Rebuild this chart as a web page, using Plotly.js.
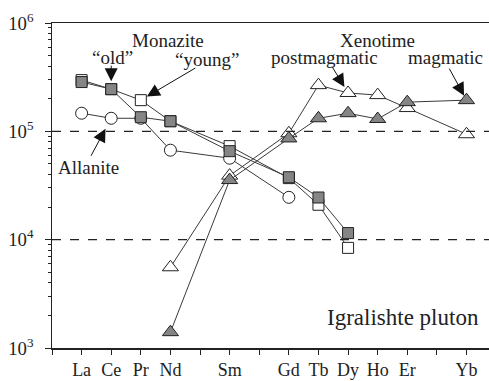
<!DOCTYPE html>
<html>
<head>
<meta charset="utf-8">
<script src="https://cdn.plot.ly/plotly-3.0.1.min.js"></script>
<style>html,body{margin:0;padding:0;background:#fff;}#chart{width:489px;height:381px;}</style>
</head>
<body>
<div id="chart"></div>
<script>
// Element positions (atomic number) and labels
const tickPositions = [56, 57, 58, 59, 60, 61, 62, 63, 64, 65, 66, 67, 68, 69, 70];
const tickLabels    = ['', 'La', 'Ce', 'Pr', 'Nd', '', 'Sm', '', 'Gd', 'Tb', 'Dy', 'Ho', 'Er', '', 'Yb'];

// Allanite (open circles)
const allaniteX = [57, 58, 59, 60, 62, 64];
const allaniteY = [147000, 132000, 132000, 67000, 56500, 24600];

// Monazite "young" (open squares)
const monYoungX = [57, 58, 59, 60, 62, 64, 65, 66];
const monYoungY = [297000, 245000, 194000, 124000, 73000, 37000, 21000, 8400];

// Monazite "old" (grey squares)
const monOldX = [57, 58, 59, 60, 62, 64, 65, 66];
const monOldY = [285000, 245000, 135000, 124000, 65600, 37700, 24500, 11500];

// Xenotime postmagmatic (open triangles)
const xenPostX = [60, 62, 64, 65, 66, 67, 68, 70];
const xenPostY = [5560, 39000, 96000, 267000, 226000, 216000, 164000, 94000];

// Xenotime magmatic (grey triangles)
const xenMagX = [60, 62, 64, 65, 66, 67, 68, 70];
const xenMagY = [1400, 35500, 86000, 132000, 147000, 130000, 186000, 194000];

const lineStyle = {color: '#3a3a3a', width: 1};
const edge = {color: '#222', width: 1};
const grey = '#858585';

const traces = [
  {x: allaniteX, y: allaniteY, mode: 'lines+markers', line: lineStyle,
   marker: {symbol: 'circle', size: 12, color: '#fff', line: edge}},
  {x: monYoungX, y: monYoungY, mode: 'lines+markers', line: lineStyle,
   marker: {symbol: 'square', size: 11, color: '#fff', line: edge}},
  {x: monOldX, y: monOldY, mode: 'lines+markers', line: lineStyle,
   marker: {symbol: 'square', size: 11, color: grey, line: edge}},
  {x: xenPostX, y: xenPostY, mode: 'lines+markers', line: lineStyle,
   marker: {symbol: 'triangle-up', size: 14, color: '#fff', line: edge}},
  {x: xenMagX, y: xenMagY, mode: 'lines+markers', line: lineStyle,
   marker: {symbol: 'triangle-up', size: 14, color: grey, line: edge}}
];

const serif = 'Times New Roman, Times, Liberation Serif, DejaVu Serif, serif';
const txt = (text, x, y, size) => ({text: text, x: x, y: y, xref: 'x', yref: 'y',
  showarrow: false, font: {family: serif, size: size || 19, color: '#222'}});
const arr = (x, y, ax, ay, standoff) => ({text: '', x: x, y: Math.log10(y), xref: 'x', yref: 'y',
  showarrow: true, ax: ax, ay: ay, arrowhead: 2, arrowsize: 2.6, arrowwidth: 1,
  arrowcolor: '#111', standoff: standoff});

const layout = {
  width: 489, height: 381,
  margin: {l: 52, r: 0, t: 23, b: 33},
  paper_bgcolor: '#fff', plot_bgcolor: '#fff',
  showlegend: false,
  font: {family: serif, color: '#222'},
  xaxis: {
    range: [56, 70.76], tickvals: tickPositions, ticktext: tickLabels,
    showgrid: false, zeroline: false, showline: true, linecolor: '#222', linewidth: 1.5,
    mirror: true, ticks: 'outside', ticklen: 5, tickcolor: '#222', tickwidth: 1,
    tickfont: {family: serif, size: 18, color: '#222'}
  },
  yaxis: {
    type: 'log', range: [3, 6], dtick: 1, exponentformat: 'power',
    showgrid: false, zeroline: false, showline: true, linecolor: '#222', linewidth: 1.5,
    ticks: 'outside', ticklen: 6, tickcolor: '#222', tickwidth: 1,
    ticklabelstandoff: 8,
    minor: {ticks: 'outside', ticklen: 3, dtick: 'D1', tickcolor: '#222', showgrid: false},
    tickfont: {family: serif, size: 15, color: '#222'}
  },
  shapes: [
    {type: 'line', xref: 'paper', yref: 'y', x0: 0, x1: 1, y0: 100000, y1: 100000,
     line: {color: '#222', width: 1.3, dash: 'dash'}},
    {type: 'line', xref: 'paper', yref: 'y', x0: 0, x1: 1, y0: 10000, y1: 10000,
     line: {color: '#222', width: 1.3, dash: 'dash'}}
  ],
  annotations: [
    txt('Monazite', 59.92, 5.843),
    txt('\u201cold\u201d', 58.03, 5.686),
    txt('\u201cyoung\u201d', 61.24, 5.667),
    txt('Allanite', 57.22, 4.669),
    txt('Xenotime', 67.01, 5.843),
    txt('postmagmatic', 65.22, 5.677),
    txt('magmatic', 69.28, 5.677),
    txt('Igralishte pluton', 67.86, 3.283, 23),
    arr(monOldX[1], monOldY[1], 0, -25, 8),
    arr(monYoungX[2], monYoungY[2], 56, -33, 7),
    arr(allaniteX[1], allaniteY[1], -21, 39, 12),
    arr(xenPostX[4], xenPostY[4], -17, -28, 7),
    arr(xenMagX[7], xenMagY[7], -18, -33, 5)
  ]
};

Plotly.newPlot('chart', traces, layout, {displayModeBar: false, staticPlot: true});
</script>
</body>
</html>
